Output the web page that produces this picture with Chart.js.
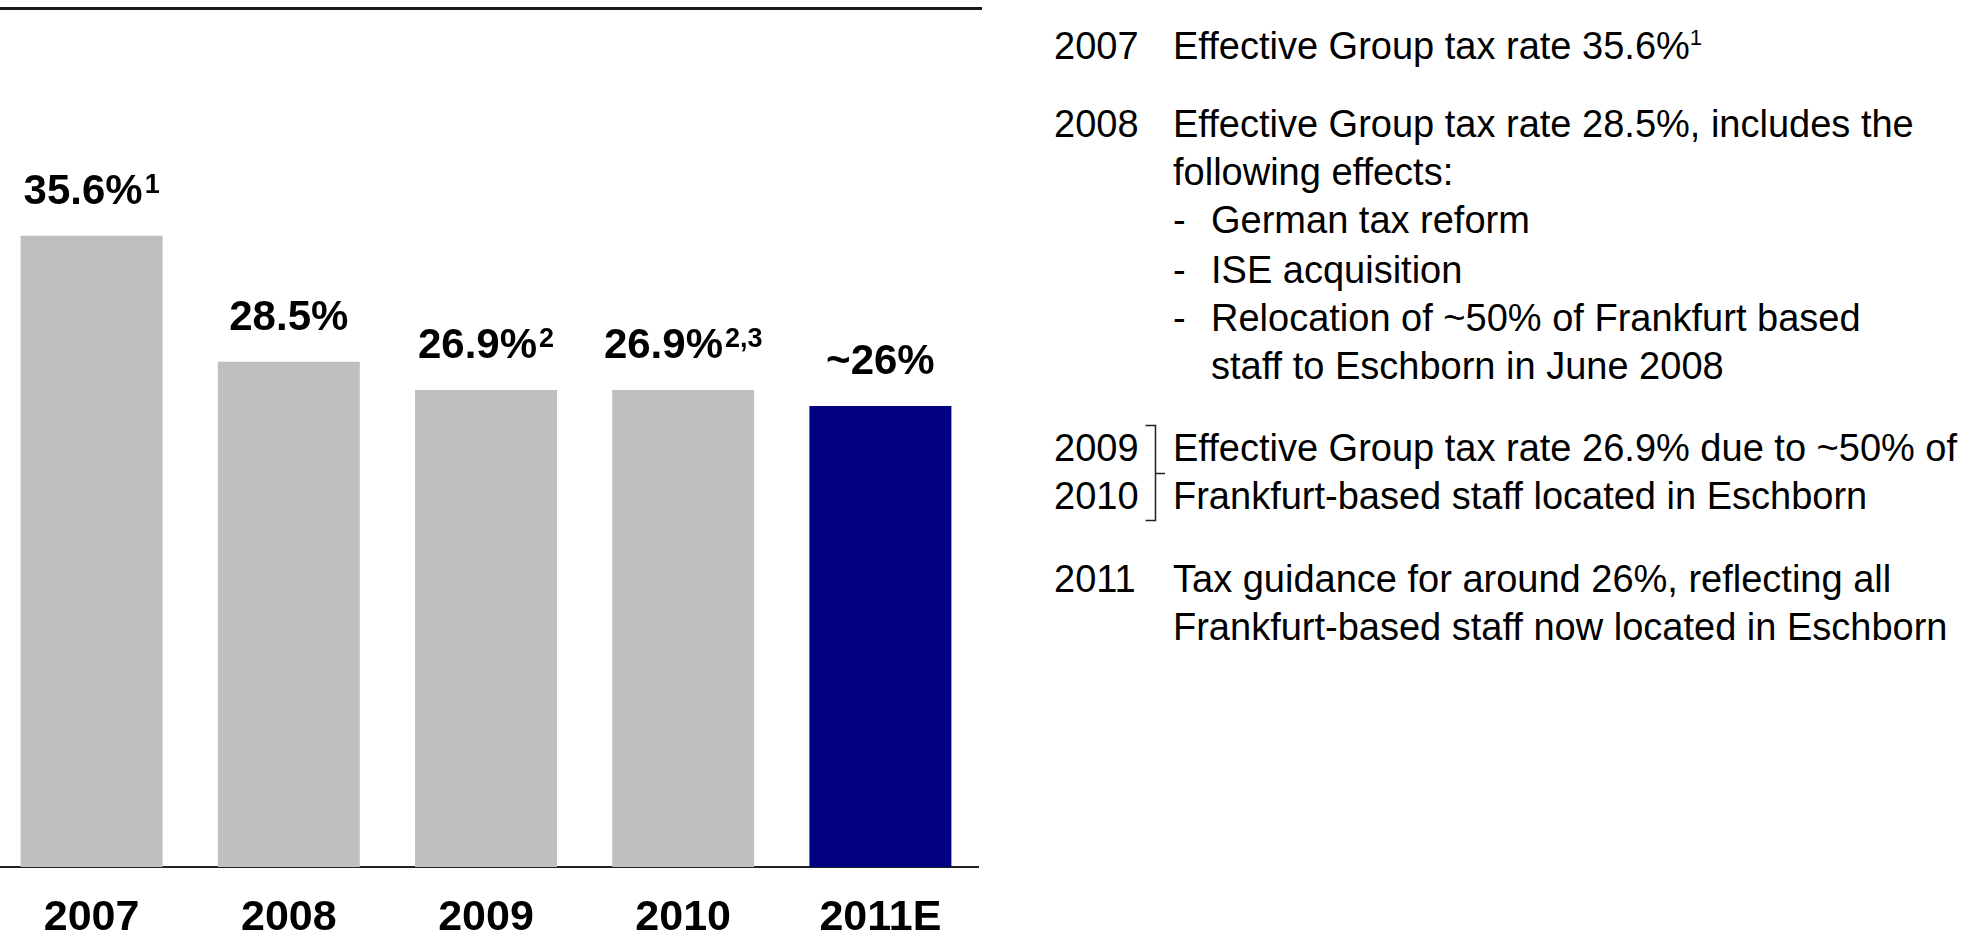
<html>
<head>
<script src="https://cdn.jsdelivr.net/npm/chart.js@4"></script>
<style>
    body {
        margin: 0;
        width: 1986px;
        height: 936px;
        overflow: hidden;
        background: #fff;
        font-family: "Liberation Sans", Arial, sans-serif;
        position: relative;
    }
    #wrap {
        position: absolute;
        left: -7px;
        top: 0;
        width: 986px;
        height: 970px;
    }
    .topline {
        position: absolute;
        left: 0;
        top: 7px;
        width: 982px;
        height: 3px;
        background: #1c1c1c;
    }
    .notes div {
        position: absolute;
        font-size: 38px;
        line-height: 48px;
        color: #000;
        white-space: nowrap;
    }
    .notes sup {
        font-size: 22px;
        vertical-align: 14px;
        line-height: 0;
    }
</style>
</head>
<body>
<div class="topline"></div>
<div id="wrap"><canvas id="taxChart"></canvas></div>

<div class="notes">
    <div style="left:1054px; top:22px">2007</div>
    <div style="left:1173px; top:22px">Effective Group tax rate 35.6%<sup>1</sup></div>

    <div style="left:1054px; top:100px">2008</div>
    <div style="left:1173px; top:100px">Effective Group tax rate 28.5%, includes the</div>
    <div style="left:1173px; top:148px">following effects:</div>
    <div style="left:1173px; top:196px">-</div>
    <div style="left:1211px; top:196px">German tax reform</div>
    <div style="left:1173px; top:246px">-</div>
    <div style="left:1211px; top:246px">ISE acquisition</div>
    <div style="left:1173px; top:294px">-</div>
    <div style="left:1211px; top:294px">Relocation of ~50% of Frankfurt based</div>
    <div style="left:1211px; top:342px">staff to Eschborn in June 2008</div>

    <div style="left:1054px; top:424px">2009</div>
    <div style="left:1054px; top:472px">2010</div>
    <div style="left:1173px; top:424px">Effective Group tax rate 26.9% due to ~50% of</div>
    <div style="left:1173px; top:472px">Frankfurt-based staff located in Eschborn</div>

    <div style="left:1054px; top:555px">2011</div>
    <div style="left:1173px; top:555px">Tax guidance for around 26%, reflecting all</div>
    <div style="left:1173px; top:603px">Frankfurt-based staff now located in Eschborn</div>
</div>

<!-- bracket joining 2009 and 2010 -->
<svg style="position:absolute; left:1140px; top:420px" width="30" height="106">
    <path d="M5.5 5.5 H15.5 V100.5 H5.5 M15.5 53.5 H25" fill="none" stroke="#222" stroke-width="1.5"/>
</svg>

<script>
    var years = ['2007', '2008', '2009', '2010', '2011E'];
    var taxRates = [35.6, 28.5, 26.9, 26.9, 26];
    var rateLabels = ['35.6%', '28.5%', '26.9%', '26.9%', '~26%'];
    var rateNotes = ['1', '', '2', '2,3', ''];

    // value labels above the bars, with footnote markers
    var barLabels = {
        id: 'barLabels',
        afterDatasetsDraw: function(chart) {
            var ctx = chart.ctx;
            var bars = chart.getDatasetMeta(0).data;
            ctx.save();
            ctx.fillStyle = '#000';
            ctx.textBaseline = 'alphabetic';
            ctx.textAlign = 'left';
            bars.forEach(function(bar, i) {
                ctx.font = 'bold 42px "Liberation Sans", Arial';
                var mainW = ctx.measureText(rateLabels[i]).width;
                ctx.font = 'bold 27px "Liberation Sans", Arial';
                var supW = rateNotes[i] ? ctx.measureText(rateNotes[i]).width + 2 : 0;
                var x0 = bar.x - (mainW + supW) / 2;
                var base = bar.y - 32;
                ctx.font = 'bold 42px "Liberation Sans", Arial';
                ctx.fillText(rateLabels[i], x0, base);
                if (rateNotes[i]) {
                    ctx.font = 'bold 27px "Liberation Sans", Arial';
                    ctx.fillText(rateNotes[i], x0 + mainW + 2, base - 11);
                }
            });
            ctx.restore();
        }
    };

    var ctx = document.getElementById('taxChart').getContext('2d');
    var chart = new Chart(ctx, {
        type: 'bar',
        data: {
            labels: years,
            datasets: [{
                data: taxRates,
                backgroundColor: function(c) {
                    return years[c.dataIndex].endsWith('E') ? '#000080' : '#bfbfbf';
                },
                barPercentage: 0.72,
                categoryPercentage: 1
            }]
        },
        options: {
            responsive: true,
            maintainAspectRatio: false,
            animation: false,
            layout: { padding: { top: 16, bottom: 0, left: 0, right: 0 } },
            plugins: {
                legend: { display: false },
                tooltip: { enabled: false }
            },
            scales: {
                y: {
                    display: false,
                    min: 0,
                    max: 48
                },
                x: {
                    grid: { display: false, drawTicks: false },
                    border: { display: true, color: '#222', width: 2 },
                    ticks: {
                        color: '#000',
                        padding: 30,
                        font: { family: '"Liberation Sans", Arial', size: 43, weight: 'bold', lineHeight: 1 }
                    }
                }
            }
        },
        plugins: [barLabels]
    });
</script>
</body>
</html>
